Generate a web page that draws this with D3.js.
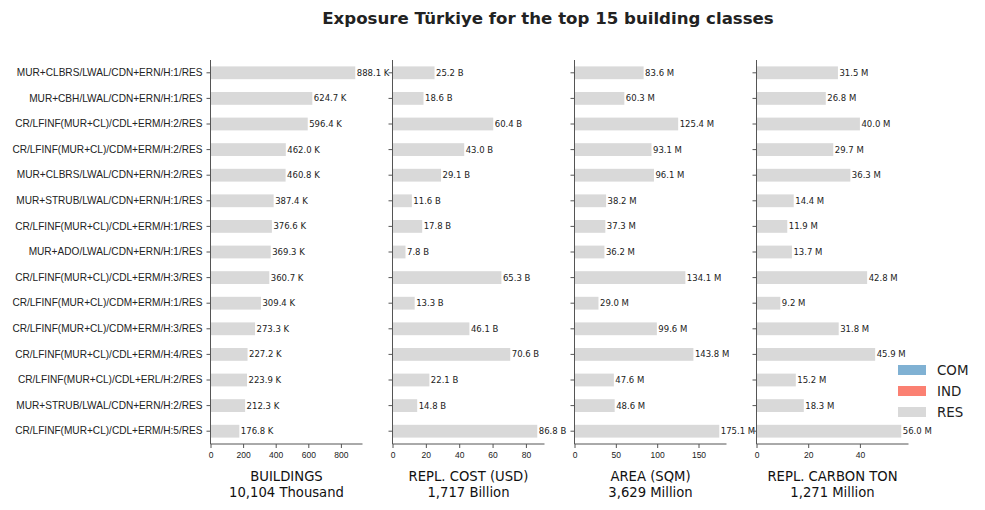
<!DOCTYPE html>
<html>
<head>
<meta charset="utf-8">
<script src="https://cdn.jsdelivr.net/npm/d3@7"></script>
<style>
  body { margin: 0; background: #fff; }
  svg { font-family: "DejaVu Sans", sans-serif; }
  .title { font-size: 16.6px; font-weight: bold; fill: #222; }
  .val { font-size: 8.5px; fill: #222; }
  .tick text { font-size: 8.5px; fill: #222; }
  .label { font-size: 13.2px; fill: #111; }
  .legend { font-size: 13.4px; fill: #222; }
</style>
</head>
<body>
<svg width="985" height="510"></svg>
<script>
// categories, top to bottom
const classes = [
  "MUR+CLBRS/LWAL/CDN+ERN/H:1/RES",
  "MUR+CBH/LWAL/CDN+ERN/H:1/RES",
  "CR/LFINF(MUR+CL)/CDL+ERM/H:2/RES",
  "CR/LFINF(MUR+CL)/CDM+ERM/H:2/RES",
  "MUR+CLBRS/LWAL/CDN+ERN/H:2/RES",
  "MUR+STRUB/LWAL/CDN+ERN/H:1/RES",
  "CR/LFINF(MUR+CL)/CDL+ERM/H:1/RES",
  "MUR+ADO/LWAL/CDN+ERN/H:1/RES",
  "CR/LFINF(MUR+CL)/CDL+ERM/H:3/RES",
  "CR/LFINF(MUR+CL)/CDM+ERM/H:1/RES",
  "CR/LFINF(MUR+CL)/CDM+ERM/H:3/RES",
  "CR/LFINF(MUR+CL)/CDL+ERM/H:4/RES",
  "CR/LFINF(MUR+CL)/CDL+ERL/H:2/RES",
  "MUR+STRUB/LWAL/CDN+ERN/H:2/RES",
  "CR/LFINF(MUR+CL)/CDL+ERM/H:5/RES"
];
const occupancy = classes.map(c => c.split("/").pop());

// thousands
const buildings = [888.1, 624.7, 596.4, 462.0, 460.8, 387.4, 376.6, 369.3, 360.7, 309.4, 273.3, 227.2, 223.9, 212.3, 176.8];
// billions USD
const replCost = [25.2, 18.6, 60.4, 43.0, 29.1, 11.6, 17.8, 7.8, 65.3, 13.3, 46.1, 70.6, 22.1, 14.8, 86.8];
// millions sqm
const area = [83.6, 60.3, 125.4, 93.1, 96.1, 38.2, 37.3, 36.2, 134.1, 29.0, 99.6, 143.8, 47.6, 48.6, 175.1];
// millions ton
const carbon = [31.5, 26.8, 40.0, 29.7, 36.3, 14.4, 11.9, 13.7, 42.8, 9.2, 31.8, 45.9, 15.2, 18.3, 56.0];

const panelTitles = ["BUILDINGS", "REPL. COST (USD)", "AREA (SQM)", "REPL. CARBON TON"];
const panelTotals = ["10,104 Thousand", "1,717 Billion", "3,629 Million", "1,271 Million"];
const unitSuffix = ["K", "B", "M", "M"];
const panelTicks = [[0, 200, 400, 600, 800], [0, 20, 40, 60, 80], [0, 50, 100, 150], [0, 20, 40]];

const legendKeys = ["COM", "IND", "RES"];
const legendColors = ["#80b1d3", "#fb8072", "#d9d9d9"];

const svg = d3.select("svg");
const color = d3.scaleOrdinal().domain(legendKeys).range(legendColors);

const plotTop = 60, plotBottom = 444;
const panelW = 152, gap = 30, left0 = 210.5;

svg.append("text")
  .attr("class", "title")
  .attr("x", 548).attr("y", 24)
  .attr("text-anchor", "middle")
  .text("Exposure Türkiye for the top 15 building classes");

const yScale = d3.scaleBand()
  .domain(classes)
  .range([plotTop, plotBottom])
  .paddingInner(0.5)
  .paddingOuter(0.25);

const series = [buildings, replCost, area, carbon];

series.forEach((vals, i) => {
  const x0 = left0 + i * (panelW + gap);
  const g = svg.append("g").attr("transform", `translate(${x0},0)`);

  const xScale = d3.scaleLinear()
    .domain([0, d3.max(vals) * 1.05])
    .range([0, panelW]);

  g.selectAll("rect")
    .data(vals)
    .enter()
    .append("rect")
    .attr("x", 0)
    .attr("y", (d, j) => yScale(classes[j]))
    .attr("width", d => xScale(d))
    .attr("height", yScale.bandwidth())
    .attr("fill", (d, j) => color(occupancy[j]));

  g.selectAll(".val")
    .data(vals)
    .enter()
    .append("text")
    .attr("class", "val")
    .attr("x", d => xScale(d) + 1.5)
    .attr("y", (d, j) => yScale(classes[j]) + yScale.bandwidth() / 2)
    .attr("dy", "0.35em")
    .text(d => d.toFixed(1) + " " + unitSuffix[i]);

  const yAxis = d3.axisLeft(yScale).tickSize(4).tickPadding(4);
  if (i > 0) yAxis.tickFormat("");
  const ya = g.append("g").call(yAxis);
  ya.select(".domain").attr("stroke", "#555").attr("d", `M0,${plotTop}V${plotBottom}`);
  ya.selectAll(".tick line").attr("stroke", "#555");
  ya.selectAll(".tick text").style("font-size", "10.1px");

  const xa = g.append("g")
    .attr("transform", `translate(0,${plotBottom})`)
    .call(d3.axisBottom(xScale).tickValues(panelTicks[i]).tickSize(4).tickPadding(4));
  xa.select(".domain").attr("stroke", "#555").attr("d", `M0,0H${panelW}`);
  xa.selectAll(".tick line").attr("stroke", "#555");

  g.append("text")
    .attr("class", "label")
    .attr("x", panelW / 2).attr("y", 481)
    .attr("text-anchor", "middle")
    .text(panelTitles[i]);
  g.append("text")
    .attr("class", "label")
    .attr("x", panelW / 2).attr("y", 497)
    .attr("text-anchor", "middle")
    .text(panelTotals[i]);
});

const legend = svg.append("g").attr("transform", "translate(898,365)");
legendKeys.forEach((k, i) => {
  legend.append("rect")
    .attr("x", 0).attr("y", i * 21)
    .attr("width", 28).attr("height", 10)
    .attr("fill", color(k));
  legend.append("text")
    .attr("class", "legend")
    .attr("x", 39).attr("y", i * 21 + 5)
    .attr("dy", "0.35em")
    .text(k);
});
</script>
</body>
</html>
